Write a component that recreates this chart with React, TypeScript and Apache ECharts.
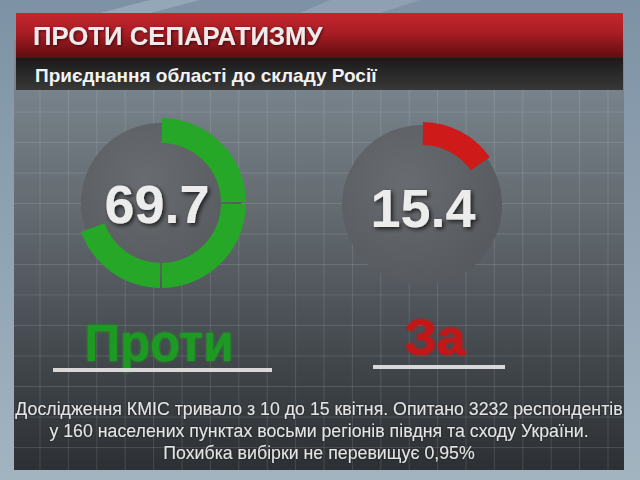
import React, { useEffect, useRef } from "react";
import * as echarts from "echarts";

// ---- data ----
const TITLE = "ПРОТИ СЕПАРАТИЗМУ";
const SUBTITLE = "Приєднання області до складу Росії";
const categories = ["Проти", "За"];
const values = [69.7, 15.4];
const noteLines = [
  "Дослідження КМІС тривало з 10 до 15 квітня. Опитано 3232 респондентів",
  "у 160 населених пунктах восьми регіонів півдня та сходу України.",
  "Похибка вибірки не перевищує 0,95%",
];
const TOTAL = 100;
const SEGMENT = 25; // ring is drawn in quarter segments

// ---- layout / style ----
const gauges = [
  { cx: 161, cy: 203, disk: 80, r0: 60, r1: 85, color: "#27a728", labelColor: "#1f9a20",
    numX: 157, numY: 204, labelX: 159, labelY: 343, labelSize: 52, labelScale: 0.95,
    lineX1: 53, lineX2: 272, lineY: 370 },
  { cx: 422, cy: 205, disk: 80, r0: 60, r1: 83, color: "#cf1a1a", labelColor: "#c41515",
    numX: 423, numY: 208, labelX: 435, labelY: 338, labelSize: 50, labelScale: 1.03,
    lineX1: 373, lineX2: 505, lineY: 367 },
];
const FONT = "'Liberation Sans', Arial, sans-serif";

function ringSegments(v: number, color: string) {
  const out: any[] = [];
  let rest = v;
  while (rest > 1e-9) {
    const s = Math.min(SEGMENT, rest);
    out.push({ value: s, itemStyle: { color } });
    rest -= s;
  }
  out.push({ value: TOTAL - v, itemStyle: { color: "rgba(0,0,0,0)" } });
  return out;
}

export default function App() {
  const ref = useRef<HTMLDivElement>(null);
  useEffect(() => {
    const chart = echarts.init(ref.current!, null, { renderer: "svg", width: 640, height: 480 });

    const elements: any[] = [];
    // page background
    elements.push({
      type: "rect", z: 0, shape: { x: 0, y: 0, width: 640, height: 480 },
      style: { fill: new echarts.graphic.LinearGradient(0, 0, 0, 1, [
        { offset: 0, color: "#7d92a4" }, { offset: 1, color: "#a3b4c1" }]) },
    });
    // top streaks
    elements.push({
      type: "polygon", z: 0, shape: { points: [[150, 0], [200, 0], [150, 13], [100, 13]] },
      style: { fill: "rgba(220,230,240,0.25)" },
    });
    elements.push({
      type: "polygon", z: 0, shape: { points: [[330, 0], [420, 0], [380, 13], [300, 13]] },
      style: { fill: "rgba(220,230,240,0.18)" },
    });
    // panel
    elements.push({
      type: "rect", z: 0, shape: { x: 14, y: 40, width: 610, height: 430 },
      style: { fill: new echarts.graphic.LinearGradient(0, 0, 0, 1, [
        { offset: 0, color: "#808c95" },
        { offset: 0.4, color: "#636a70" },
        { offset: 0.75, color: "#41464b" },
        { offset: 1, color: "#2c3034" }]) },
    });
    // grid lines
    for (let x = 40; x <= 624; x += 28.4) {
      elements.push({ type: "line", z: 1, shape: { x1: x, y1: 90, x2: x, y2: 470 },
        style: { stroke: "rgba(255,255,255,0.12)", lineWidth: 1 } });
    }
    for (let y = 112; y <= 470; y += 30.5) {
      elements.push({ type: "line", z: 1, shape: { x1: 14, y1: y, x2: 624, y2: y },
        style: { stroke: "rgba(255,255,255,0.12)", lineWidth: 1 } });
    }
    // banners
    elements.push({
      type: "rect", z: 5, shape: { x: 16, y: 13, width: 607, height: 45 },
      style: { fill: new echarts.graphic.LinearGradient(0, 0, 0, 1, [
        { offset: 0, color: "#c3262d" }, { offset: 0.45, color: "#a81d24" },
        { offset: 1, color: "#5e0c10" }]) },
    });
    elements.push({
      type: "rect", z: 5, shape: { x: 16, y: 58, width: 607, height: 32 },
      style: { fill: new echarts.graphic.LinearGradient(0, 0, 0, 1, [
        { offset: 0, color: "#1a1a1a" }, { offset: 1, color: "#383838" }]) },
    });
    elements.push({
      type: "text", z: 10, x: 33, y: 36, scaleX: 1.03,
      style: { text: TITLE, fill: "#ececec", font: `bold 25px ${FONT}`,
        textAlign: "left", textVerticalAlign: "middle",
        textShadowColor: "rgba(0,0,0,0.6)", textShadowBlur: 3, textShadowOffsetX: 1, textShadowOffsetY: 1 },
    });
    elements.push({
      type: "text", z: 10, x: 35, y: 75, scaleX: 1.0,
      style: { text: SUBTITLE, fill: "#f2f2f2", font: `bold 19px ${FONT}`,
        textAlign: "left", textVerticalAlign: "middle" },
    });

    const series: any[] = [];
    gauges.forEach((g, i) => {
      series.push({
        type: "pie", z: 2, silent: true, center: [g.cx, g.cy], radius: [0, g.disk],
        label: { show: false }, labelLine: { show: false }, emphasis: { disabled: true },
        data: [{ value: 1, itemStyle: { color: new echarts.graphic.RadialGradient(0.4, 0.35, 0.75, [
          { offset: 0, color: "#686b6f" }, { offset: 1, color: "#54575b" }]) } }],
      });
      series.push({
        type: "pie", z: 3, silent: true, center: [g.cx, g.cy], radius: [g.r0, g.r1],
        startAngle: 90, clockwise: true, padAngle: 1.4,
        label: { show: false }, labelLine: { show: false }, emphasis: { disabled: true },
        itemStyle: { borderWidth: 0 },
        data: ringSegments(values[i], g.color),
      });
      elements.push({
        type: "text", z: 10, x: g.numX, y: g.numY,
        style: { text: String(values[i]), fill: "#ececec", font: `bold 54px ${FONT}`,
          textAlign: "center", textVerticalAlign: "middle",
          textShadowColor: "rgba(0,0,0,0.7)", textShadowBlur: 4, textShadowOffsetX: 2, textShadowOffsetY: 2 },
      });
      elements.push({
        type: "text", z: 10, x: g.labelX, y: g.labelY, scaleX: g.labelScale,
        style: { text: categories[i], fill: g.labelColor, font: `bold ${g.labelSize}px ${FONT}`,
          textAlign: "center", textVerticalAlign: "middle",
          textShadowColor: g.labelColor, textShadowBlur: 3 },
      });
      elements.push({
        type: "rect", z: 10, shape: { x: g.lineX1, y: g.lineY - 2, width: g.lineX2 - g.lineX1, height: 4 },
        style: { fill: "#d8d8d8" },
      });
    });

    const noteY = [408, 430, 452];
    noteLines.forEach((t, k) => {
      elements.push({
        type: "text", z: 10, x: 319, y: noteY[k], scaleX: 0.935,
        style: { text: t, fill: "#e4e4e4", font: `19px ${FONT}`,
          textAlign: "center", textVerticalAlign: "middle",
          textShadowColor: "rgba(0,0,0,0.6)", textShadowBlur: 2 },
      });
    });

    chart.setOption({
      animation: false,
      backgroundColor: "#8a9cad",
      graphic: { elements },
      series,
    });
    return () => chart.dispose();
  }, []);
  return <div ref={ref} style={{ position: "fixed", left: 0, top: 0, width: 640, height: 480 }} />;
}
